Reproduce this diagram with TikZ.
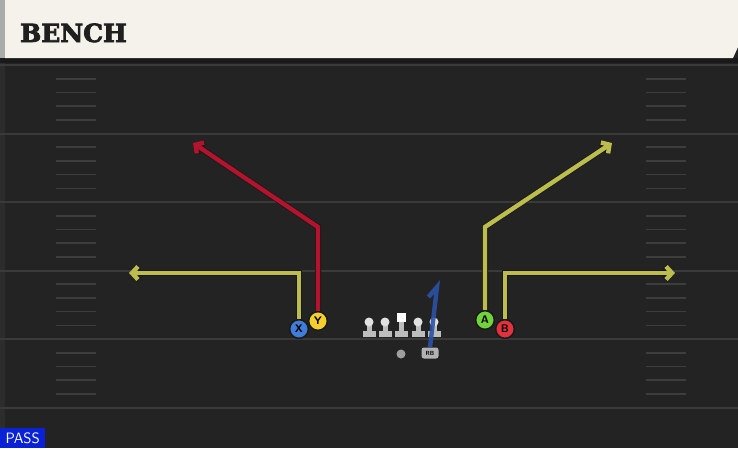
\documentclass[tikz,border=0pt]{standalone}
\usepackage{fontspec}
\newfontfamily\titlefont[BoldFeatures={FakeBold=3}]{DejaVu Serif}
\usetikzlibrary{arrows.meta}

\definecolor{fieldbg}{HTML}{232323}
\definecolor{yardline}{HTML}{3A3A3A}
\definecolor{hashline}{HTML}{3D3D3D}
\definecolor{headbg}{HTML}{F5F2EB}
\definecolor{headstrip}{HTML}{A9ACA8}
\definecolor{routeyel}{HTML}{BDBD4E}
\definecolor{routered}{HTML}{B3132C}
\definecolor{blockblue}{HTML}{2B52A6}
\definecolor{plX}{HTML}{3F7DD8}
\definecolor{plY}{HTML}{F4CE2C}
\definecolor{plA}{HTML}{72D23C}
\definecolor{plB}{HTML}{E2323E}
\definecolor{passblue}{HTML}{0A22D6}
\definecolor{olgray}{HTML}{BDBDBD}

\tikzset{
  route/.style={line width=4.4pt, line join=miter,
    -{Straight Barb[length=6pt,width=13pt]},
    preaction={draw=black!90, line width=6pt}},
  player/.style={circle, draw=black!90, line width=1.3pt, minimum size=18.5pt,
    inner sep=0pt, font=\sffamily\bfseries\fontsize{11}{11}\selectfont},
}

\begin{document}
\begin{tikzpicture}[x=1pt, y=-1pt]
  \useasboundingbox (0,0) rectangle (738,448);
  % field
  \fill[fieldbg] (0,0) rectangle (738,448);
  \fill[black!28!fieldbg] (0,58) rectangle (738,63);
  \fill[white!4!fieldbg] (0,63) rectangle (5,448);

  % yard lines every 5, hashes every yard
  \foreach \y in {65,133.5,202,270.5,339,407.5} {
    \draw[yardline, line width=2pt] (0,\y) -- (738,\y);
  }
  \foreach \b in {65,133.5,202,270.5,339} {
    \foreach \k in {1,2,3,4} {
      \draw[hashline, line width=1.6pt] (56,\b+\k*13.7) -- (96,\b+\k*13.7);
      \draw[hashline, line width=1.6pt] (646,\b+\k*13.7) -- (686,\b+\k*13.7);
    }
  }

  % title bar
  \fill[headbg] (5,0) -- (738,0) -- (738,47) -- (733,58) -- (5,58) -- cycle;
  \fill[headstrip] (0,0) rectangle (5,58);
  \node[anchor=base west, inner sep=0pt, text=black!88,
        font=\titlefont\bfseries\fontsize{25}{25}\selectfont] (title) at (20,42) {BENCH};

  % offensive line
  \foreach \x in {369,385,418,434} {
    \fill[olgray] (\x-2.5,322) rectangle (\x+2.5,332);
    \fill[olgray] (\x-6.5,330.5) rectangle (\x+6.5,336.5);
    \fill[white!55!olgray] (\x,322) circle (4.5);
  }
  \fill[olgray] (398.8,321) rectangle (403.8,331);
  \fill[olgray] (394.8,330.5) rectangle (407.8,336.5);
  \fill[white] (397,313) rectangle (405.5,321.5);

  % backs
  \fill[gray!75] (401,354) circle (4.5);
  \node[fill=gray!60, rounded corners=2.5pt, inner sep=0pt, minimum width=17pt,
        minimum height=11pt, font=\sffamily\bfseries\fontsize{6}{6}\selectfont] (rb) at (430,353) {RB};

  % receivers
  \node[player, fill=plX] (X) at (299,329) {X};
  \node[player, fill=plY] (Y) at (318,321) {Y};
  \node[player, fill=plA] (A) at (485,320) {A};
  \node[player, fill=plB] (B) at (505,329) {B};

  \coordinate (xc) at (299,273);
  \coordinate (xe) at (129,273);
  \coordinate (yc) at (318,227);
  \coordinate (ye) at (193,143);
  \coordinate (ac) at (485,227);
  \coordinate (ae) at (612,143);
  \coordinate (bc) at (505,273);
  \coordinate (be) at (675,273);

  % routes
  \draw[route, routeyel] (X.north) -- (xc) -- (xe);
  \draw[route, routered] (Y.north) -- (yc) -- (ye);
  \draw[route, routeyel] (A.north) -- (ac) -- (ae);
  \draw[route, routeyel] (B.north) -- (bc) -- (be);

  % pass protection
  \coordinate (blk) at (437,287);
  \coordinate (blkend) at (428.5,297);
  \draw[blockblue, opacity=0.9, line width=4.4pt, line join=miter] (rb.north) -- (blk) -- (blkend);

  % players on top of their routes
  \foreach \p/\c in {X/plX,Y/plY,A/plA,B/plB} {
    \node[player, fill=\c] at (\p) {\p};
  }

  % play type
  \node[anchor=south west, fill=passblue, text=white, inner sep=0pt, minimum width=45pt,
        minimum height=20pt, font=\sffamily\fontsize{15}{15}\selectfont] (pass) at (0,448) {PASS};
\end{tikzpicture}
\end{document}
